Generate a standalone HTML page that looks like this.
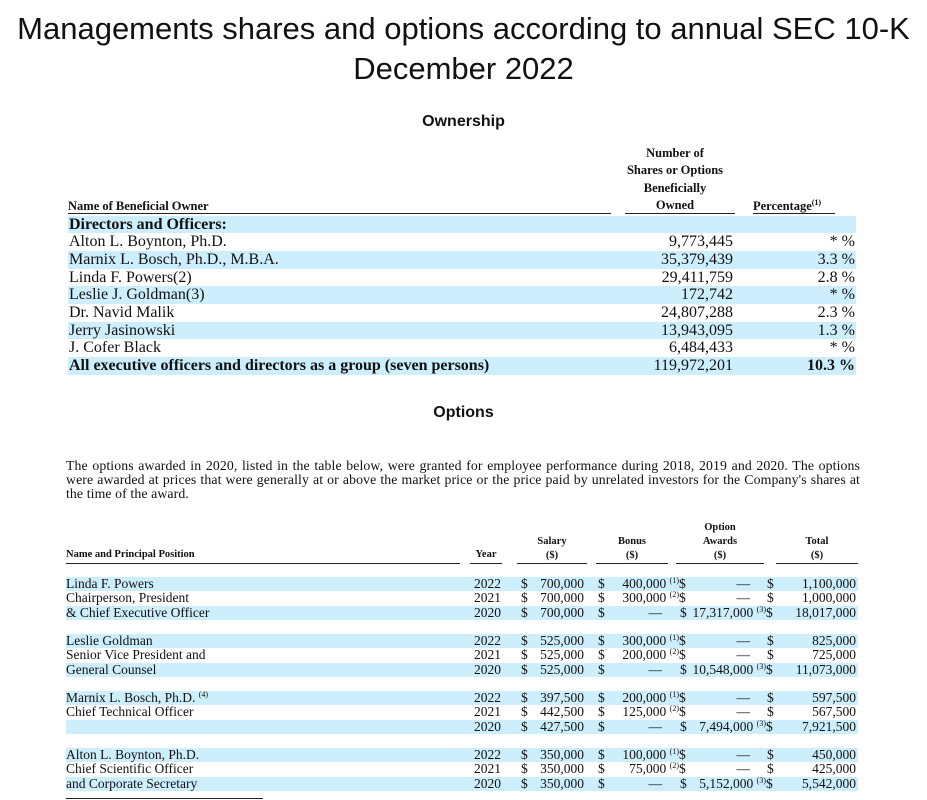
<!DOCTYPE html>
<html><head><meta charset="utf-8">
<style>
html,body{margin:0;padding:0;background:#fff;}
#root{position:relative;width:927px;height:800px;overflow:hidden;font-family:"Liberation Serif",serif;color:#111;}
.abs{position:absolute;white-space:nowrap;}
.t{font-family:"Liberation Sans",sans-serif;}
.band{position:absolute;background:#cdeefc;}
.r{text-align:right;}
.ul{position:absolute;height:1px;background:#222;}
sup{font-size:8px;vertical-align:5px;line-height:0;}
</style></head><body>
<div id="root">
<div class="abs t" style="left:0;width:927px;text-align:center;top:11px;font-size:31px;">Managements shares and options according to annual SEC 10-K</div>
<div class="abs t" style="left:0;width:927px;text-align:center;top:51px;font-size:31px;">December 2022</div>
<div class="abs t" style="left:0;width:927px;text-align:center;top:113px;font-size:16px;font-weight:bold;">Ownership</div>
<div class="abs t" style="left:0;width:927px;text-align:center;top:404px;font-size:16px;font-weight:bold;">Options</div>
<div class="abs" style="left:66px;top:459px;width:794px;white-space:normal;font-size:13.8px;letter-spacing:0.1px;line-height:14px;text-align:justify;">The options awarded in 2020, listed in the table below, were granted for employee performance during 2018, 2019 and 2020. The options were awarded at prices that were generally at or above the market price or the price paid by unrelated investors for the Company's shares at the time of the award.</div>
<div class="ul" style="left:66px;top:798px;width:197px;"></div>
</div>
<script>
const ownNames=["Directors and Officers:","Alton L. Boynton, Ph.D.","Marnix L. Bosch, Ph.D., M.B.A.","Linda F. Powers(2)","Leslie J. Goldman(3)","Dr. Navid Malik","Jerry Jasinowski","J. Cofer Black","All executive officers and directors as a group (seven persons)"];
const ownShares=["","9,773,445","35,379,439","29,411,759","172,742","24,807,288","13,943,095","6,484,433","119,972,201"];
const ownPct=["","* %","3.3 %","2.8 %","* %","2.3 %","1.3 %","* %","10.3 %"];
const optNames=["Linda F. Powers","Chairperson, President","& Chief Executive Officer","","Leslie Goldman","Senior Vice President and","General Counsel","","Marnix L. Bosch, Ph.D. <sup>(4)</sup>","Chief Technical Officer","","","Alton L. Boynton, Ph.D.","Chief Scientific Officer","and Corporate Secretary"];
const optYear=["2022","2021","2020","","2022","2021","2020","","2022","2021","2020","","2022","2021","2020"];
const optSalary=["700,000","700,000","700,000","","525,000","525,000","525,000","","397,500","442,500","427,500","","350,000","350,000","350,000"];
const optBonus=["400,000 <sup>(1)</sup>","300,000 <sup>(2)</sup>","—","","300,000 <sup>(1)</sup>","200,000 <sup>(2)</sup>","—","","200,000 <sup>(1)</sup>","125,000 <sup>(2)</sup>","—","","100,000 <sup>(1)</sup>","75,000 <sup>(2)</sup>","—"];
const optAward=["—","—","17,317,000 <sup>(3)</sup>","","—","—","10,548,000 <sup>(3)</sup>","","—","—","7,494,000 <sup>(3)</sup>","","—","—","5,152,000 <sup>(3)</sup>"];
const optTotal=["1,100,000","1,000,000","18,017,000","","825,000","725,000","11,073,000","","597,500","567,500","7,921,500","","450,000","425,000","5,542,000"];

const root=document.getElementById('root');
function mk(cls,style,html){const d=document.createElement('div');d.className=cls;d.style.cssText=style;if(html!==undefined)d.innerHTML=html;root.appendChild(d);return d;}

let e;
e=mk('abs','left:68px;top:199px;font-size:12.5px;font-weight:bold;','Name of Beneficial Owner');


["Number of","Shares or Options","Beneficially","Owned"].forEach((s,i)=>{
  e=mk('abs','left:610px;width:130px;text-align:center;top:'+(146+i*17.3)+'px;font-size:12.5px;font-weight:bold;',s);
  
  
});
e=mk('abs','left:753px;top:199px;font-size:12.5px;font-weight:bold;','Percentage<sup>(1)</sup>');


[[68,543],[625,110],[753,82]].forEach(u=>{
  e=mk('ul','left:'+u[0]+'px;width:'+u[1]+'px;top:213px;');
  
  
});
const rh=17.7, r0=215.5;
ownNames.forEach((n,i)=>{
  const y=r0+i*rh;
  if(i%2===0){e=mk('band','left:68px;width:788px;top:'+y+'px;height:'+rh+'px;');
    
    }
  const b=(i===0||i===ownNames.length-1)?'font-weight:bold;':'';
  e=mk('abs','left:69px;top:'+(y)+'px;font-size:16px;'+b,n);
  
  
  e=mk('abs r','left:600px;width:133px;top:'+(y)+'px;font-size:16px;',ownShares[i]);
  
  
  e=mk('abs r','left:760px;width:95px;top:'+(y)+'px;font-size:16px;'+(i===ownNames.length-1?'font-weight:bold;':''),ownPct[i]);
  
  
});

const hs='font-size:10.5px;font-weight:bold;';
e=mk('abs','left:66px;top:549px;'+hs,'Name and Principal Position');


e=mk('abs','left:470px;width:32px;text-align:center;top:549px;'+hs,'Year');


[["Salary<br>($)",517,70],["Bonus<br>($)",596,72],["Option<br>Awards<br>($)",676,88],["Total<br>($)",776,82]].forEach((h,i)=>{
  const lines=h[0].split('<br>').length;
  e=mk('abs','left:'+h[1]+'px;width:'+h[2]+'px;text-align:center;line-height:14px;top:'+(563-lines*14)+'px;'+hs,h[0]);
  
  
});
[[66,394],[470,32],[517,70],[596,72],[676,88],[776,82]].forEach(u=>{
  e=mk('ul','left:'+u[0]+'px;width:'+u[1]+'px;top:563px;');
  
  
});
const oh=14.25, o0=577;
const fs='font-size:13.5px;line-height:14px;';
optNames.forEach((n,i)=>{
  const y=o0+i*oh;
  if(optYear[i]==="") return;
  const g=i%4;
  if(g===0||g===2){e=mk('band','left:66px;width:792px;top:'+y+'px;height:'+oh+'px;');
    
    }
  e=mk('abs','left:66px;top:'+y+'px;'+fs,n);
  
  
  e=mk('abs r','left:460px;width:41px;top:'+y+'px;'+fs,optYear[i]);
  
  
  [[521,"$"],[598,"$"]].forEach(d=>{e=mk('abs','left:'+d[0]+'px;top:'+y+'px;'+fs,d[1]);
    
    });
  e=mk('abs r','left:520px;width:64px;top:'+y+'px;'+fs,optSalary[i]);
  
  
  const bonusNote=optBonus[i].indexOf('sup')>=0;
  e=mk('abs r','left:590px;width:'+(bonusNote?89:72)+'px;top:'+y+'px;'+fs,optBonus[i]);
  
  
  e=mk('abs','left:'+(bonusNote?679:680)+'px;top:'+y+'px;'+fs,'$');
  
  
  const awNote=optAward[i].indexOf('sup')>=0;
  e=mk('abs r','left:680px;width:'+(awNote?86:70)+'px;top:'+y+'px;'+fs,optAward[i]);
  
  
  e=mk('abs','left:'+(awNote?766:767)+'px;top:'+y+'px;'+fs,'$');
  
  
  e=mk('abs r','left:770px;width:86px;top:'+y+'px;'+fs,optTotal[i]);
  
  
});
</script>
</body></html>
